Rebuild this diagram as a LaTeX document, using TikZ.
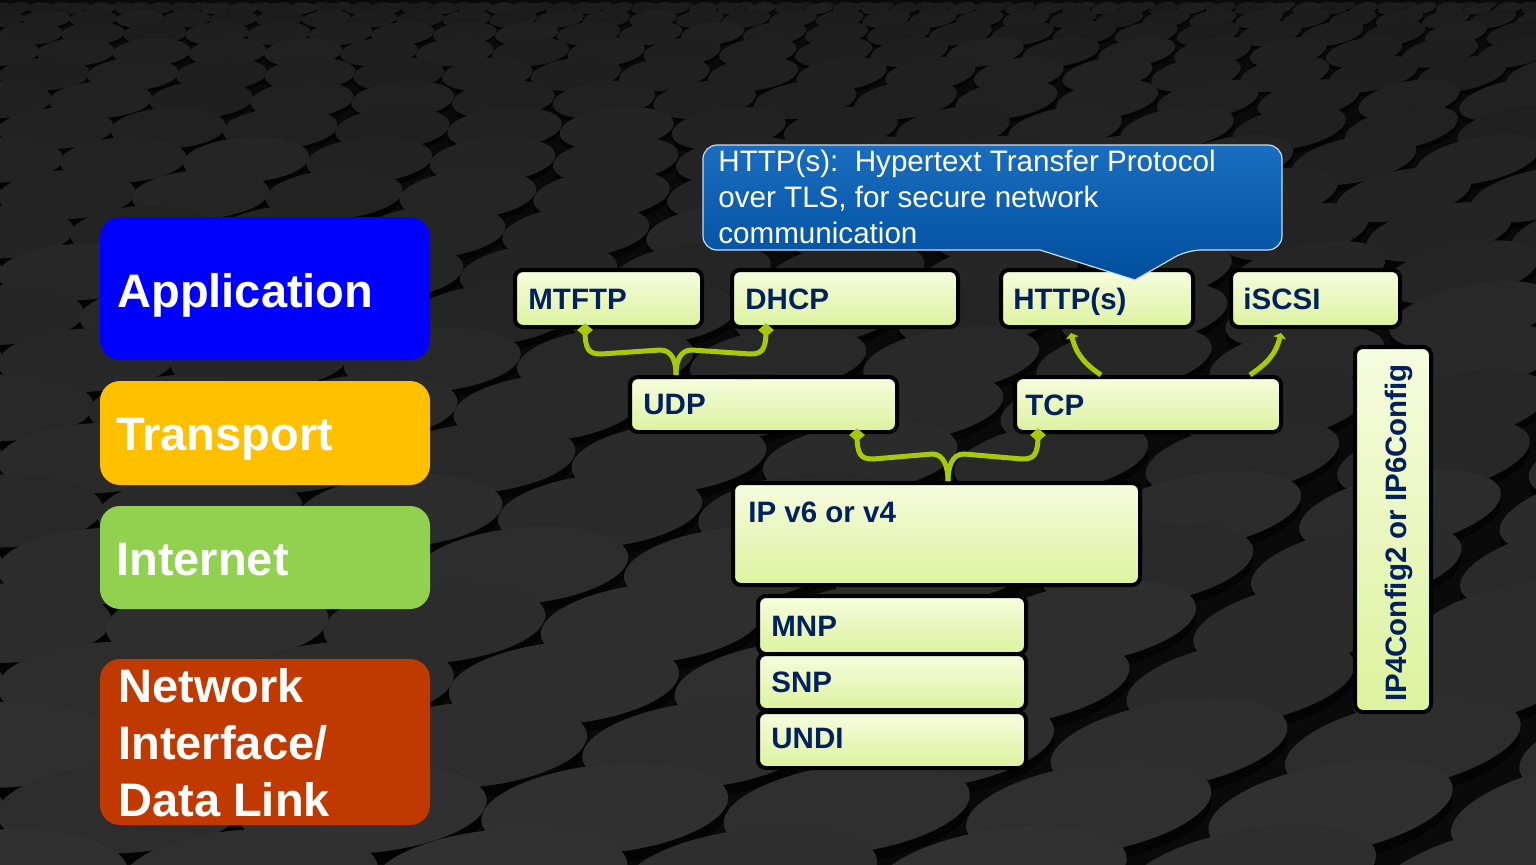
\documentclass[tikz,border=0pt]{standalone}
\usepackage{fontspec}
\setmainfont{Liberation Sans}
\usetikzlibrary{shapes.geometric,arrows.meta,fit,calc}

\definecolor{appblue}{HTML}{0000FF}
\definecolor{trorange}{HTML}{FFC000}
\definecolor{netgreen}{HTML}{92D050}
\definecolor{linkred}{HTML}{C03A00}
\definecolor{navy}{HTML}{002060}
\definecolor{lime}{HTML}{A8C80A}
\definecolor{boxtop}{HTML}{F6FCDF}
\definecolor{boxbot}{HTML}{DDF29E}
\definecolor{calltop}{HTML}{1A6DBF}
\definecolor{callbot}{HTML}{004E9E}
\definecolor{calledge}{HTML}{C8DCF0}
\definecolor{floor}{HTML}{0A0A0A}

\tikzset{
  layer/.style={fill=#1, draw=none, rounded corners=10pt, inner sep=0pt},
  layertext/.style={text=white, font=\bfseries\fontsize{23.5}{28.5}\selectfont,
    inner sep=0pt, align=left},
  gbox/.style={draw=black, line width=2pt, rounded corners=4pt,
    top color=boxtop, bottom color=boxbot, inner sep=0pt},
  gtext/.style={text=navy, font=\bfseries\fontsize{14.75}{17}\selectfont,
    inner sep=0pt, anchor=base west},
  conn/.style={draw=lime, line width=2.5pt},
  tipmark/.style={diamond, fill=lime, draw=none, inner sep=0pt,
    minimum width=8pt, minimum height=7pt},
  calltext/.style={text=white, font=\fontsize{14.8}{18}\selectfont,
    inner sep=0pt, align=left},
  disc/.style={fill=white!#1!black}
}

\begin{document}
\begin{tikzpicture}[x=0.5pt,y=-0.5pt]
\useasboundingbox (0,0) rectangle (1536,864);

% floor of tilted discs, growing towards the viewer
\fill[floor] (-20,-20) rectangle (1556,884);
\pgfmathsetseed{11}
\begin{scope}
  \clip (-20,-20) rectangle (1556,884);
  \foreach \k in {0,...,22}{
    \pgfmathsetmacro\kk{max(\k,0.6)}
    \pgfmathsetmacro\yy{4+4.55*\kk^1.7}
    \pgfmathsetmacro\sp{1.7*4.55*\kk^0.7}
    \pgfmathsetmacro\ry{0.68*\sp}
    \pgfmathsetmacro\rx{2.8*\ry}
    \pgfmathsetmacro\dx{1.95*\rx}
    \pgfmathsetmacro\off{mod(\k,2)*0.5*\dx}
    \pgfmathsetmacro\rxp{\rx/2}
    \pgfmathsetmacro\ryp{\ry/2}
    \pgfmathtruncatemacro\n{1536/\dx+2}
    \foreach \i in {0,...,\n}{
      \pgfmathsetmacro\cx{\i*\dx-\off}
      \pgfmathsetmacro\ang{2+\cx/1536*10}
      \pgfmathsetmacro\g{10+\k/22*8+1.5*rnd}
      \fill[black, opacity=0.5, shift={(\cx,\yy+0.25*\ry)}, rotate=\ang]
        (0,0) ellipse [x radius=\rxp pt, y radius=\ryp pt];
      \fill[disc=\g, shift={(\cx,\yy)}, rotate=\ang]
        (0,0) ellipse [x radius=\rxp pt, y radius=\ryp pt];
    }
  }
\end{scope}

% layer labels
\node[layer=appblue, fit={(100,217)(430,360)}] (app) {};
\node[layertext, anchor=base west] (appT) at (117,307) {Application};
\node[layer=trorange, fit={(100,381)(430,485)}] (trans) {};
\node[layertext, anchor=base west] (transT) at (116,450) {Transport};
\node[layer=netgreen, fit={(100,506)(430,609)}] (inet) {};
\node[layertext, anchor=base west] (inetT) at (116,575) {Internet};
\node[layer=linkred, fit={(100,659)(430,825)}] (link) {};
\node[layertext, anchor=west] (linkT) at (118,743) {Network\\Interface/\\Data Link};

% protocol boxes
\node[gbox, fit={(515,270)(702,327)}] (mtftp) {};
\node[gtext] (mtftpT) at (528,309) {MTFTP};
\node[gbox, fit={(732,270)(958,327)}] (dhcp) {};
\node[gtext] (dhcpT) at (745,309) {DHCP};
\node[gbox, fit={(1001,270)(1193,327)}] (http) {};
\node[gtext] (httpT) at (1013,309) {HTTP(s)};
\node[gbox, fit={(1231,270)(1400,327)}] (iscsi) {};
\node[gtext] (iscsiT) at (1243,309) {iSCSI};
\node[gbox, fit={(630,377)(897,432)}] (udp) {};
\node[gtext] (udpT) at (643,414) {UDP};
\node[gbox, fit={(1015,377)(1281,432)}] (tcp) {};
\node[gtext] (tcpT) at (1025,415) {TCP};
\node[gbox, fit={(733,483)(1140,585)}] (ip) {};
\node[gtext] (ipT) at (748,522) {IP v6 or v4};
\node[gbox, fit={(758,596)(1026,654)}] (mnp) {};
\node[gtext] (mnpT) at (771,636) {MNP};
\node[gbox, fit={(758,654)(1026,710)}] (snp) {};
\node[gtext] (snpT) at (771,692) {SNP};
\node[gbox, fit={(758,712)(1026,768)}] (undi) {};
\node[gtext] (undiT) at (771,748) {UNDI};
\node[gbox, fit={(1355,347)(1431,712)}] (cfg) {};
\node[gtext, rotate=90] (cfgT) at (1406,702) {IP4Config2 or IP6Config};

% callout for HTTP(s)
\shade[top color=calltop, bottom color=callbot, draw=calledge, line width=0.6pt,
  rounded corners=7pt]
  (900,145) -- (1282,145) -- (1282,250) -- (1187,250) [sharp corners]
  -- (1135,280) -- (1040,250) [rounded corners=7pt] -- (703,250)
  -- (703,145) -- cycle;
\node[calltext, anchor=west] (callout) at (718,197)
  {HTTP(s):\ \ Hypertext Transfer Protocol\\over TLS, for secure network\\communication};

% connector attachment points
\coordinate (udpIn) at ($(udp.north west)+(48,0)$);
\coordinate (ipIn) at ($(ip.north west)+(217,0)$);
\coordinate (tcpL) at ($(tcp.north west)+(88,0)$);
\coordinate (tcpR) at ($(tcp.north west)+(237,0)$);
\coordinate (httpOut) at ($(http.south west)+(72,4)$);
\coordinate (iscsiOut) at ($(iscsi.south west)+(52,4)$);
\path (mtftp.south west) ++(72,1) coordinate (t1);
\path (dhcp.south west) ++(36,1) coordinate (t2);
\path (udp.south west) ++(229,1) coordinate (t3);
\path (tcp.south west) ++(25,1) coordinate (t4);

% MTFTP + DHCP over UDP
\draw[conn] (t1) .. controls +(0,20) and +(-12,0) .. ++(16,24)
  -- ($(udpIn)+(-16,-25)$) .. controls +(12,0) and +(0,-14) .. (udpIn);
\draw[conn] (t2) .. controls +(0,20) and +(12,0) .. ++(-16,24)
  -- ($(udpIn)+(16,-25)$) .. controls +(-12,0) and +(0,-14) .. (udpIn);

% UDP + TCP over IP
\draw[conn] (t3) .. controls +(0,20) and +(-12,0) .. ++(16,24)
  -- ($(ipIn)+(-16,-27)$) .. controls +(12,0) and +(0,-14) .. (ipIn);
\draw[conn] (t4) .. controls +(0,20) and +(12,0) .. ++(-16,24)
  -- ($(ipIn)+(16,-27)$) .. controls +(-12,0) and +(0,-14) .. (ipIn);

% diamond ends on the upper boxes
\node[tipmark] (d1) at (t1) {};
\node[tipmark] (d2) at (t2) {};
\node[tipmark] (d3) at (t3) {};
\node[tipmark] (d4) at (t4) {};

% HTTP(s) and iSCSI over TCP
\draw[conn, {Triangle[width=6.5pt,length=2.5pt]}-] (httpOut)
  .. controls +(6,24) and +(-14,-10) .. (tcpL);
\draw[conn, {Triangle[width=6.5pt,length=2.5pt]}-] (iscsiOut)
  .. controls +(-6,24) and +(14,-10) .. (tcpR);
\end{tikzpicture}
\end{document}
